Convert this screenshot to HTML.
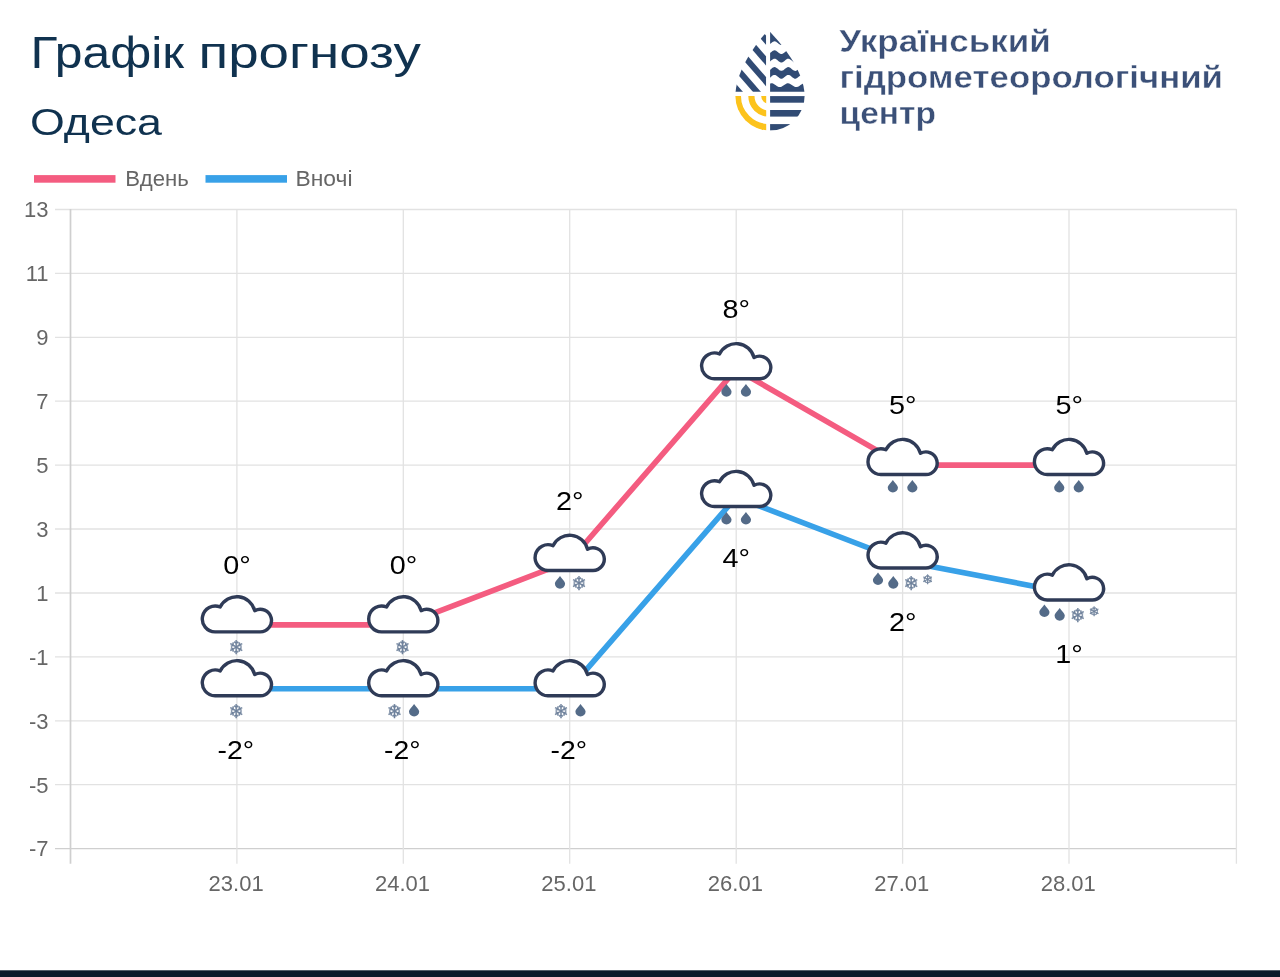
<!DOCTYPE html>
<html lang="uk"><head><meta charset="utf-8"><title>Графік прогнозу — Одеса</title>
<style>html,body{margin:0;padding:0;background:#fff}body{width:1280px;height:977px;overflow:hidden;position:relative;font-family:"Liberation Sans",sans-serif}svg{position:absolute;left:0;top:0;display:block}text{font-family:"Liberation Sans",sans-serif}.sn{font-family:"DejaVu Sans",sans-serif}</style></head><body>
<svg width="1280" height="977" viewBox="0 0 1280 977">
<rect width="1280" height="977" fill="#fff"/>
<rect x="0" y="970.3" width="1280" height="7" fill="#0b1a2a"/>
<text y="68.2" font-size="44" fill="#10324f"><tspan x="30.6" textLength="153.5" lengthAdjust="spacingAndGlyphs">Графік</tspan> <tspan x="198.5" textLength="222.5" lengthAdjust="spacingAndGlyphs">прогнозу</tspan></text>
<text x="30" y="135" font-size="37" fill="#10324f" textLength="132" lengthAdjust="spacingAndGlyphs">Одеса</text>
<defs><clipPath id="dropL"><path d="M768.4,30.2 C779.4,41.2 804.6,70.0 804.6,96.0 A34.6,34.6 0 0 1 735.4,96.0 C735.4,70.0 757.4,41.2 768.4,30.2 Z"/></clipPath><clipPath id="qTL"><rect x="720" y="20" width="46.2" height="71.8"/></clipPath><clipPath id="qBL"><rect x="720" y="96.1" width="46.2" height="50"/></clipPath><clipPath id="qR"><rect x="770.1" y="20" width="60" height="130"/></clipPath></defs><g clip-path="url(#dropL)"><g clip-path="url(#qTL)" fill="#314b74"><polygon points="766.2,35.8 766.2,45.0 725,-2.4 725,-11.6"/><polygon points="766.2,56.5 766.2,65.7 725,18.3 725,9.1"/><polygon points="766.2,77.2 766.2,86.4 725,39.0 725,29.8"/><polygon points="766.2,97.9 766.2,107.1 725,59.7 725,50.5"/><polygon points="766.2,118.6 766.2,127.8 725,80.4 725,71.2"/></g><g clip-path="url(#qBL)" fill="none" stroke="#fcc31c"><circle cx="769.0" cy="96.0" r="31.3" stroke-width="6.6"/><circle cx="769.0" cy="96.0" r="17.6" stroke-width="6.2"/><circle cx="769.0" cy="96.0" r="3.9" stroke-width="7.8"/></g><g clip-path="url(#qR)" fill="#314b74"><polygon points="769,25 808,25 807.4,44.62 806.6,44.07 805.8,43.42 805.0,42.73 804.2,42.10 803.4,41.62 802.6,41.35 801.8,41.32 801.0,41.53 800.2,41.97 799.4,42.56 798.6,43.24 797.8,43.92 797.0,44.50 796.2,44.91 795.4,45.09 794.6,45.03 793.8,44.73 793.0,44.22 792.2,43.59 791.4,42.90 790.6,42.25 789.8,41.73 789.0,41.40 788.2,41.30 787.4,41.46 786.6,41.84 785.8,42.40 785.0,43.07 784.2,43.75 783.4,44.37 782.6,44.82 781.8,45.07 781.0,45.07 780.2,44.82 779.4,44.37 778.6,43.75 777.8,43.07 777.0,42.40 776.2,41.84 775.4,41.46 774.6,41.30 773.8,41.40 773.0,41.73 772.2,42.25 771.4,42.90 770.6,43.59 769.8,44.22 769.0,44.73"/><polygon points="769.0,53.73 769.8,53.22 770.6,52.59 771.4,51.90 772.2,51.25 773.0,50.73 773.8,50.40 774.6,50.30 775.4,50.46 776.2,50.84 777.0,51.40 777.8,52.07 778.6,52.75 779.4,53.37 780.2,53.82 781.0,54.07 781.8,54.07 782.6,53.82 783.4,53.37 784.2,52.75 785.0,52.07 785.8,51.40 786.6,50.84 787.4,50.46 788.2,50.30 789.0,50.40 789.8,50.73 790.6,51.25 791.4,51.90 792.2,52.59 793.0,53.22 793.8,53.73 794.6,54.03 795.4,54.09 796.2,53.91 797.0,53.50 797.8,52.92 798.6,52.24 799.4,51.56 800.2,50.97 801.0,50.53 801.8,50.32 802.6,50.35 803.4,50.62 804.2,51.10 805.0,51.73 805.8,52.42 806.6,53.07 807.4,53.62 807.4,62.02 806.6,61.47 805.8,60.82 805.0,60.13 804.2,59.50 803.4,59.02 802.6,58.75 801.8,58.72 801.0,58.93 800.2,59.37 799.4,59.96 798.6,60.64 797.8,61.32 797.0,61.90 796.2,62.31 795.4,62.49 794.6,62.43 793.8,62.13 793.0,61.62 792.2,60.99 791.4,60.30 790.6,59.65 789.8,59.13 789.0,58.80 788.2,58.70 787.4,58.86 786.6,59.24 785.8,59.80 785.0,60.47 784.2,61.15 783.4,61.77 782.6,62.22 781.8,62.47 781.0,62.47 780.2,62.22 779.4,61.77 778.6,61.15 777.8,60.47 777.0,59.80 776.2,59.24 775.4,58.86 774.6,58.70 773.8,58.80 773.0,59.13 772.2,59.65 771.4,60.30 770.6,60.99 769.8,61.62 769.0,62.13"/><polygon points="769.0,70.53 769.8,70.02 770.6,69.39 771.4,68.70 772.2,68.05 773.0,67.53 773.8,67.20 774.6,67.10 775.4,67.26 776.2,67.64 777.0,68.20 777.8,68.87 778.6,69.55 779.4,70.17 780.2,70.62 781.0,70.87 781.8,70.87 782.6,70.62 783.4,70.17 784.2,69.55 785.0,68.87 785.8,68.20 786.6,67.64 787.4,67.26 788.2,67.10 789.0,67.20 789.8,67.53 790.6,68.05 791.4,68.70 792.2,69.39 793.0,70.02 793.8,70.53 794.6,70.83 795.4,70.89 796.2,70.71 797.0,70.30 797.8,69.72 798.6,69.04 799.4,68.36 800.2,67.77 801.0,67.33 801.8,67.12 802.6,67.15 803.4,67.42 804.2,67.90 805.0,68.53 805.8,69.22 806.6,69.87 807.4,70.42 807.4,78.22 806.6,77.67 805.8,77.02 805.0,76.33 804.2,75.70 803.4,75.22 802.6,74.95 801.8,74.92 801.0,75.13 800.2,75.57 799.4,76.16 798.6,76.84 797.8,77.52 797.0,78.10 796.2,78.51 795.4,78.69 794.6,78.63 793.8,78.33 793.0,77.82 792.2,77.19 791.4,76.50 790.6,75.85 789.8,75.33 789.0,75.00 788.2,74.90 787.4,75.06 786.6,75.44 785.8,76.00 785.0,76.67 784.2,77.35 783.4,77.97 782.6,78.42 781.8,78.67 781.0,78.67 780.2,78.42 779.4,77.97 778.6,77.35 777.8,76.67 777.0,76.00 776.2,75.44 775.4,75.06 774.6,74.90 773.8,75.00 773.0,75.33 772.2,75.85 771.4,76.50 770.6,77.19 769.8,77.82 769.0,78.33"/><polygon points="769.0,84.10 769.8,83.68 770.6,83.41 771.4,83.30 772.2,83.37 773.0,83.60 773.8,83.98 774.6,84.48 775.4,85.04 776.2,85.61 777.0,86.15 777.8,86.60 778.6,86.92 779.4,87.08 780.2,87.07 781.0,86.89 781.8,86.55 782.6,86.09 783.4,85.54 784.2,84.97 785.0,84.41 785.8,83.93 786.6,83.56 787.4,83.35 788.2,83.31 789.0,83.44 789.8,83.73 790.6,84.16 791.4,84.68 792.2,85.25 793.0,85.82 793.8,86.33 794.6,86.74 795.4,87.00 796.2,87.10 797.0,87.02 797.8,86.78 798.6,86.39 799.4,85.89 800.2,85.33 801.0,84.75 801.8,84.22 802.6,83.78 803.4,83.46 804.2,83.31 805.0,83.33 805.8,83.53 806.6,83.88 807.4,84.35 808,91.8 769,91.8"/><rect x="769" y="96.1" width="40" height="6.6"/><rect x="769" y="110.0" width="40" height="6.6"/><rect x="769" y="124.1" width="40" height="6.6"/></g></g>
<g font-weight="bold" font-size="32" fill="#3b5078" stroke="#fff" stroke-width="0.4">
<text x="839.3" y="52.4" textLength="211.5" lengthAdjust="spacingAndGlyphs">Український</text>
<text x="839.5" y="88.2" textLength="383.5" lengthAdjust="spacingAndGlyphs">гідрометеорологічний</text>
<text x="839.5" y="123.5" textLength="96.5" lengthAdjust="spacingAndGlyphs">центр</text>
</g>
<rect x="34" y="175.1" width="81.5" height="7.6" fill="#f45c80"/>
<rect x="205.5" y="175.1" width="81.5" height="7.6" fill="#38a1e8"/>
<g font-size="22" fill="#666"><text x="125.3" y="186" textLength="63.5" lengthAdjust="spacingAndGlyphs">Вдень</text><text x="295.5" y="186" textLength="57" lengthAdjust="spacingAndGlyphs">Вночі</text></g>
<g><line x1="55" y1="209.5" x2="1236.4" y2="209.5" stroke="#e2e2e2" stroke-width="1.3"/><line x1="55" y1="273.4" x2="1236.4" y2="273.4" stroke="#e2e2e2" stroke-width="1.3"/><line x1="55" y1="337.3" x2="1236.4" y2="337.3" stroke="#e2e2e2" stroke-width="1.3"/><line x1="55" y1="401.2" x2="1236.4" y2="401.2" stroke="#e2e2e2" stroke-width="1.3"/><line x1="55" y1="465.1" x2="1236.4" y2="465.1" stroke="#e2e2e2" stroke-width="1.3"/><line x1="55" y1="529.0" x2="1236.4" y2="529.0" stroke="#e2e2e2" stroke-width="1.3"/><line x1="55" y1="593.0" x2="1236.4" y2="593.0" stroke="#e2e2e2" stroke-width="1.3"/><line x1="55" y1="656.9" x2="1236.4" y2="656.9" stroke="#e2e2e2" stroke-width="1.3"/><line x1="55" y1="720.8" x2="1236.4" y2="720.8" stroke="#e2e2e2" stroke-width="1.3"/><line x1="55" y1="784.7" x2="1236.4" y2="784.7" stroke="#e2e2e2" stroke-width="1.3"/><line x1="55" y1="848.6" x2="1236.4" y2="848.6" stroke="#cfcfcf" stroke-width="1.3"/><line x1="70.5" y1="209" x2="70.5" y2="863.8" stroke="#cfcfcf" stroke-width="1.7"/><line x1="236.9" y1="209" x2="236.9" y2="863.8" stroke="#e2e2e2" stroke-width="1.3"/><line x1="403.3" y1="209" x2="403.3" y2="863.8" stroke="#e2e2e2" stroke-width="1.3"/><line x1="569.7" y1="209" x2="569.7" y2="863.8" stroke="#e2e2e2" stroke-width="1.3"/><line x1="736.2" y1="209" x2="736.2" y2="863.8" stroke="#e2e2e2" stroke-width="1.3"/><line x1="902.6" y1="209" x2="902.6" y2="863.8" stroke="#e2e2e2" stroke-width="1.3"/><line x1="1069.0" y1="209" x2="1069.0" y2="863.8" stroke="#e2e2e2" stroke-width="1.3"/><line x1="1236.4" y1="209" x2="1236.4" y2="863.8" stroke="#e2e2e2" stroke-width="1.3"/></g>
<g font-size="22" fill="#666"><text x="48.6" y="217.3" text-anchor="end">13</text><text x="48.6" y="281.2" text-anchor="end">11</text><text x="48.6" y="345.1" text-anchor="end">9</text><text x="48.6" y="409.0" text-anchor="end">7</text><text x="48.6" y="472.9" text-anchor="end">5</text><text x="48.6" y="536.8" text-anchor="end">3</text><text x="48.6" y="600.8" text-anchor="end">1</text><text x="48.6" y="664.7" text-anchor="end">-1</text><text x="48.6" y="728.6" text-anchor="end">-3</text><text x="48.6" y="792.5" text-anchor="end">-5</text><text x="48.6" y="856.4" text-anchor="end">-7</text></g>
<g font-size="22" fill="#666"><text x="236.1" y="891.3" text-anchor="middle">23.01</text><text x="402.5" y="891.3" text-anchor="middle">24.01</text><text x="568.9" y="891.3" text-anchor="middle">25.01</text><text x="735.4" y="891.3" text-anchor="middle">26.01</text><text x="901.8" y="891.3" text-anchor="middle">27.01</text><text x="1068.2" y="891.3" text-anchor="middle">28.01</text></g>
<polyline points="236.9,688.8 403.3,688.8 569.7,688.8 736.2,497.1 902.6,561.0 1069.0,593.0" fill="none" stroke="#38a1e8" stroke-width="5.6" stroke-linejoin="round"/>
<polyline points="236.9,624.9 403.3,624.9 569.7,561.0 736.2,369.3 902.6,465.1 1069.0,465.1" fill="none" stroke="#f45c80" stroke-width="5.6" stroke-linejoin="round"/>
<defs>
<path id="cl" d="M-22.10,10.05 A12.9,12.9 0 1 1 -17.01,-14.75 A18.5,18.5 0 0 1 17.53,-11.14 A11.3,11.3 0 1 1 22.90,10.05 Z" fill="#fff" stroke="#2f3b57" stroke-width="3.4" stroke-linejoin="round"/>
<path id="dr" d="M0,-6.3 C1.2,-4.2 5.1,-1.2 5.1,1.3 A5.1,5.1 0 0 1 -5.1,1.3 C-5.1,-1.2 -1.2,-4.2 0,-6.3 Z" fill="#546b88"/>
</defs>
<g transform="translate(236.9,688.8)"><use href="#cl" x="0.3" y="-3.1"/><text class="sn" x="-0.5" y="28.94" font-size="19" fill="#6f829c" stroke="#6f829c" stroke-width="0.35" text-anchor="middle">❄</text></g>
<g transform="translate(403.3,688.8)"><use href="#cl" x="0.3" y="-3.1"/><text class="sn" x="-8.6" y="29.04" font-size="19" fill="#6f829c" stroke="#6f829c" stroke-width="0.35" text-anchor="middle">❄</text><use href="#dr" x="10.8" y="21.4"/></g>
<g transform="translate(569.7,688.8)"><use href="#cl" x="0.3" y="-3.1"/><text class="sn" x="-8.6" y="29.04" font-size="19" fill="#6f829c" stroke="#6f829c" stroke-width="0.35" text-anchor="middle">❄</text><use href="#dr" x="10.8" y="21.4"/></g>
<g transform="translate(736.2,497.1)"><use href="#cl" x="0.3" y="-0.6"/><use href="#dr" x="-9.75" y="21.1"/><use href="#dr" x="9.75" y="21.1"/></g>
<g transform="translate(902.6,561.0)"><use href="#cl" x="0.3" y="-3.1"/><use href="#dr" x="-24.6" y="17.7"/><use href="#dr" x="-9.3" y="21.3"/><text class="sn" x="8.9" y="28.74" font-size="19" fill="#6f829c" stroke="#6f829c" stroke-width="0.35" text-anchor="middle">❄</text><text class="sn" x="24.9" y="22.55" font-size="12.920000000000002" fill="#6f829c" stroke="#6f829c" stroke-width="0.35" text-anchor="middle">❄</text></g>
<g transform="translate(1069.0,593.0)"><use href="#cl" x="0.3" y="-3.1"/><use href="#dr" x="-24.6" y="17.7"/><use href="#dr" x="-9.3" y="21.3"/><text class="sn" x="8.9" y="28.74" font-size="19" fill="#6f829c" stroke="#6f829c" stroke-width="0.35" text-anchor="middle">❄</text><text class="sn" x="24.9" y="22.55" font-size="12.920000000000002" fill="#6f829c" stroke="#6f829c" stroke-width="0.35" text-anchor="middle">❄</text></g>
<g transform="translate(236.9,624.9)"><use href="#cl" x="0.3" y="-3.1"/><text class="sn" x="-0.5" y="28.94" font-size="19" fill="#6f829c" stroke="#6f829c" stroke-width="0.35" text-anchor="middle">❄</text></g>
<g transform="translate(403.3,624.9)"><use href="#cl" x="0.3" y="-3.1"/><text class="sn" x="-0.5" y="28.94" font-size="19" fill="#6f829c" stroke="#6f829c" stroke-width="0.35" text-anchor="middle">❄</text></g>
<g transform="translate(569.7,561.0)"><use href="#cl" x="0.3" y="-0.6"/><use href="#dr" x="-9.7" y="21.25"/><text class="sn" x="9.4" y="29.34" font-size="19" fill="#6f829c" stroke="#6f829c" stroke-width="0.35" text-anchor="middle">❄</text></g>
<g transform="translate(736.2,369.3)"><use href="#cl" x="0.3" y="-0.6"/><use href="#dr" x="-9.75" y="21.1"/><use href="#dr" x="9.75" y="21.1"/></g>
<g transform="translate(902.6,465.1)"><use href="#cl" x="0.3" y="-0.6"/><use href="#dr" x="-9.75" y="21.1"/><use href="#dr" x="9.75" y="21.1"/></g>
<g transform="translate(1069.0,465.1)"><use href="#cl" x="0.3" y="-0.6"/><use href="#dr" x="-9.75" y="21.1"/><use href="#dr" x="9.75" y="21.1"/></g>
<g font-size="26" fill="#000"><text x="223.3" y="573.9" textLength="27.5" lengthAdjust="spacingAndGlyphs">0°</text><text x="217.6" y="758.5" textLength="36.5" lengthAdjust="spacingAndGlyphs">-2°</text><text x="389.7" y="573.9" textLength="27.5" lengthAdjust="spacingAndGlyphs">0°</text><text x="384.1" y="758.5" textLength="36.5" lengthAdjust="spacingAndGlyphs">-2°</text><text x="556.1" y="510.0" textLength="27.5" lengthAdjust="spacingAndGlyphs">2°</text><text x="550.5" y="758.5" textLength="36.5" lengthAdjust="spacingAndGlyphs">-2°</text><text x="722.6" y="318.3" textLength="27.5" lengthAdjust="spacingAndGlyphs">8°</text><text x="722.4" y="566.8" textLength="27.5" lengthAdjust="spacingAndGlyphs">4°</text><text x="889.0" y="414.1" textLength="27.5" lengthAdjust="spacingAndGlyphs">5°</text><text x="888.9" y="630.7" textLength="27.5" lengthAdjust="spacingAndGlyphs">2°</text><text x="1055.4" y="414.1" textLength="27.5" lengthAdjust="spacingAndGlyphs">5°</text><text x="1055.3" y="662.7" textLength="27.5" lengthAdjust="spacingAndGlyphs">1°</text></g>
</svg></body></html>
